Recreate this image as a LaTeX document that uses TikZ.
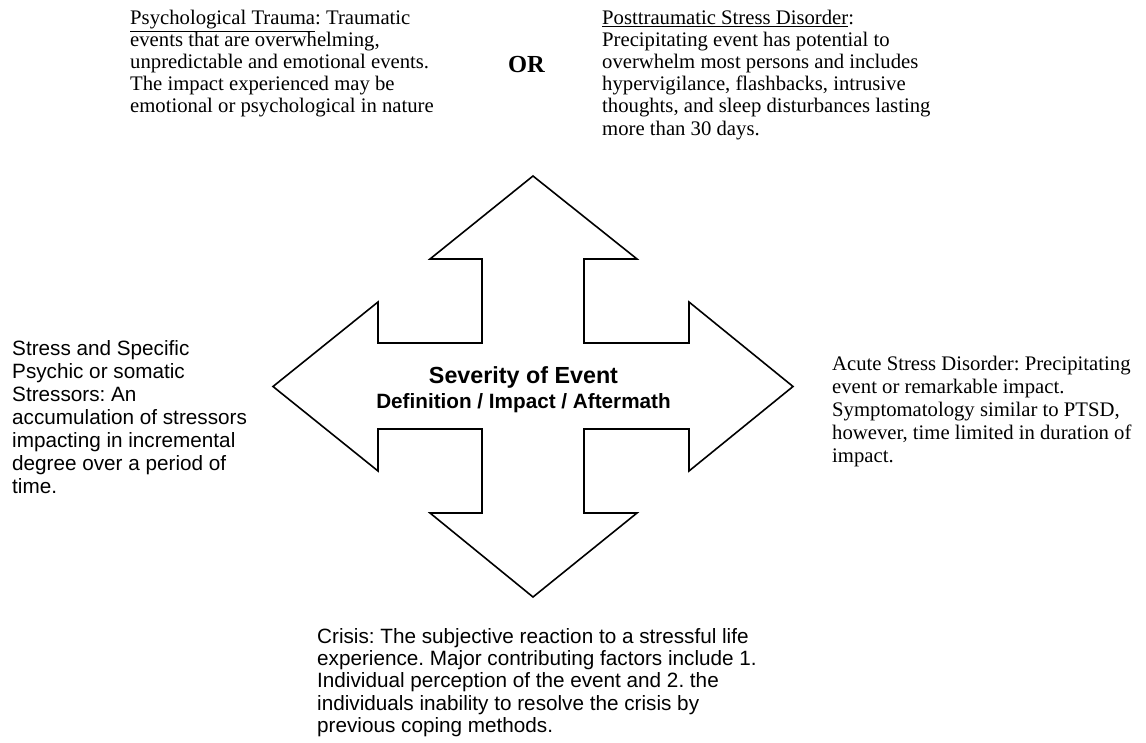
\documentclass[tikz,border=0pt]{standalone}
\usepackage{fontspec}
\setmainfont{Liberation Serif}
\setsansfont{Liberation Sans}
\frenchspacing
\newcommand{\topsize}{\fontsize{20.7bp}{22bp}\selectfont}
\newcommand{\sidesize}{\fontsize{20.7bp}{23bp}\selectfont}
\newcommand{\botsize}{\fontsize{20.7bp}{22.4bp}\selectfont}
\newcommand{\txtblock}[1]{\parbox[t]{440bp}{\raggedright\frenchspacing #1}}
\begin{document}
\begin{tikzpicture}[x=1bp,y=-1bp,
  toptxt/.style={anchor=base west, inner sep=0pt, font=\rmfamily\topsize},
  sidetxt/.style={anchor=base west, inner sep=0pt, font=\rmfamily\sidesize},
  stxt/.style={anchor=base west, inner sep=0pt, font=\sffamily\sidesize},
  btxt/.style={anchor=base west, inner sep=0pt, font=\sffamily\botsize},
  arrowshape/.style={draw=black, line width=1.6bp, line join=miter, fill=white}]
\path[use as bounding box, fill=white] (0,0) rectangle (1146,743);

% four-headed arrow
\draw[arrowshape]
  (533,176) -- (637,259) -- (584,259) -- (584,343) -- (689,343) -- (689,302)
  -- (793,386.5) -- (689,471) -- (689,429) -- (584,429) -- (584,513)
  -- (637,513) -- (533,597) -- (430,513) -- (482,513) -- (482,429)
  -- (378,429) -- (378,471) -- (273,386.5) -- (378,302) -- (378,343)
  -- (482,343) -- (482,259) -- (430,259) -- cycle;

\node[anchor=base, inner sep=0pt, font=\sffamily\bfseries\fontsize{23.3bp}{26bp}\selectfont] (sev) at (523.5,383) {Severity of Event};
\node[anchor=base, inner sep=0pt, font=\sffamily\bfseries\fontsize{20.7bp}{24bp}\selectfont] (def) at (523.5,408) {Definition / Impact / Aftermath};

% top left
\node[toptxt] (trauma) at (130,25) {\txtblock{\underline{Psychological Trauma}: Traumatic\\
events that are overwhelming,\\
unpredictable and emotional events.\\
The impact experienced may be\\
emotional or psychological in nature}};

\node[anchor=base, inner sep=0pt, font=\rmfamily\bfseries\fontsize{24.5bp}{26bp}\selectfont] (or) at (526.5,73) {OR};

% top right
\node[toptxt] (ptsd) at (602,25) {\txtblock{\underline{Posttraumatic Stress Disorder}:\\
Precipitating event has potential to\\
overwhelm most persons and includes\\
hypervigilance, flashbacks, intrusive\\
thoughts, and sleep disturbances lasting\\
more than 30 days.}};

% left
\node[stxt] (stress) at (12,355) {\txtblock{Stress and Specific\\
Psychic or somatic\\
Stressors: An\\
accumulation of stressors\\
impacting in incremental\\
degree over a period of\\
time.}};

% right
\node[sidetxt] (acute) at (832,370) {\txtblock{Acute Stress Disorder: Precipitating\\
event or remarkable impact.\\
Symptomatology similar to PTSD,\\
however, time limited in duration of\\
impact.}};

% bottom
\node[btxt] (crisis) at (317,643) {\txtblock{Crisis: The subjective reaction to a stressful life\\
experience. Major contributing factors include 1.\\
Individual perception of the event and 2. the\\
individuals inability to resolve the crisis by\\
previous coping methods.}};
\end{tikzpicture}
\end{document}
